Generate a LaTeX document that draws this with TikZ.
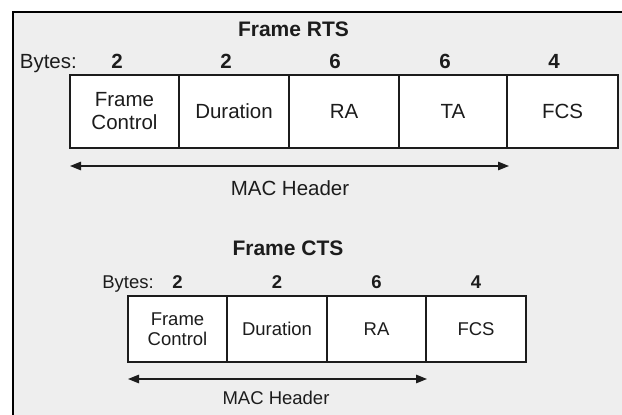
\documentclass[tikz,border=0pt]{standalone}
\usepackage{fontspec}
\setmainfont{Liberation Sans}
\usetikzlibrary{arrows.meta}
\definecolor{panel}{HTML}{EEEEEE}
\definecolor{ink}{HTML}{1C1C1C}
\begin{document}
\begin{tikzpicture}[x=1pt,y=-1pt,
  field/.style={draw=ink, fill=white, line width=1.3pt, inner sep=0pt,
    align=center, text=ink},
  bigtxt/.style={font=\fontsize{20.5}{23}\selectfont},
  smalltxt/.style={font=\fontsize{18.5}{19.5}\selectfont},
  heading/.style={font=\bfseries\fontsize{21}{24}\selectfont, text=ink, anchor=base, inner sep=0pt},
  count/.style={text=ink, anchor=base, inner sep=0pt, execute at begin node=\bfseries},
  label/.style={text=ink, anchor=base, inner sep=0pt},
  span/.style={draw=ink, line width=1.4pt,
    {Triangle[length=11pt,width=8.5pt]}-{Triangle[length=11pt,width=8.5pt]}}]
\useasboundingbox (0,0) rectangle (622,415);
% panel and its frame
\fill[panel] (13,12) rectangle (622,415);
\draw[line width=2.5pt, black] (13,415) -- (13,12) -- (622,12);

% ---------- RTS frame ----------
\node[heading] (rtsTitle) at (293.5,36.5) {Frame RTS};
\begin{scope}[every node/.append style={bigtxt}]
  \node[label, anchor=base east] (rtsBytes) at (77,68) {Bytes:};
  \node[count] (rn1) at (117,68) {2};
  \node[count] (rn2) at (226,68) {2};
  \node[count] (rn3) at (335,68) {6};
  \node[count] (rn4) at (445,68) {6};
  \node[count] (rn5) at (554,68) {4};
  \node[field, minimum width=109pt, minimum height=73pt] (r1) at (124.5,111.5) {Frame\\Control};
  \node[field, minimum width=110pt, minimum height=73pt] (r2) at (234,111.5) {Duration};
  \node[field, minimum width=110pt, minimum height=73pt] (r3) at (344,111.5) {RA};
  \node[field, minimum width=108pt, minimum height=73pt] (r4) at (453,111.5) {TA};
  \node[field, minimum width=111pt, minimum height=73pt] (r5) at (562.5,111.5) {FCS};
  \node[label] (rtsMac) at (290,195.3) {MAC Header};
\end{scope}
\coordinate (rtsL) at (70,166);
\coordinate (rtsR) at (509,166);
\draw[span] (rtsL) -- (rtsR);

% ---------- CTS frame ----------
\node[heading] (ctsTitle) at (288,255.5) {Frame CTS};
\begin{scope}[every node/.append style={smalltxt}]
  \node[label, anchor=base east] (ctsBytes) at (154,288) {Bytes:};
  \node[count] (cn1) at (177.5,288) {2};
  \node[count] (cn2) at (277,288) {2};
  \node[count] (cn3) at (376.5,288) {6};
  \node[count] (cn4) at (476,288) {4};
  \node[field, minimum width=99pt, minimum height=66pt] (c1) at (177.5,329) {Frame\\Control};
  \node[field, minimum width=100pt, minimum height=66pt] (c2) at (277,329) {Duration};
  \node[field, minimum width=99pt, minimum height=66pt] (c3) at (376.5,329) {RA};
  \node[field, minimum width=100pt, minimum height=66pt] (c4) at (476,329) {FCS};
  \node[label] (ctsMac) at (276,404.6) {MAC Header};
\end{scope}
\coordinate (ctsL) at (128,379);
\coordinate (ctsR) at (427,379);
\draw[span] (ctsL) -- (ctsR);
\end{tikzpicture}
\end{document}
